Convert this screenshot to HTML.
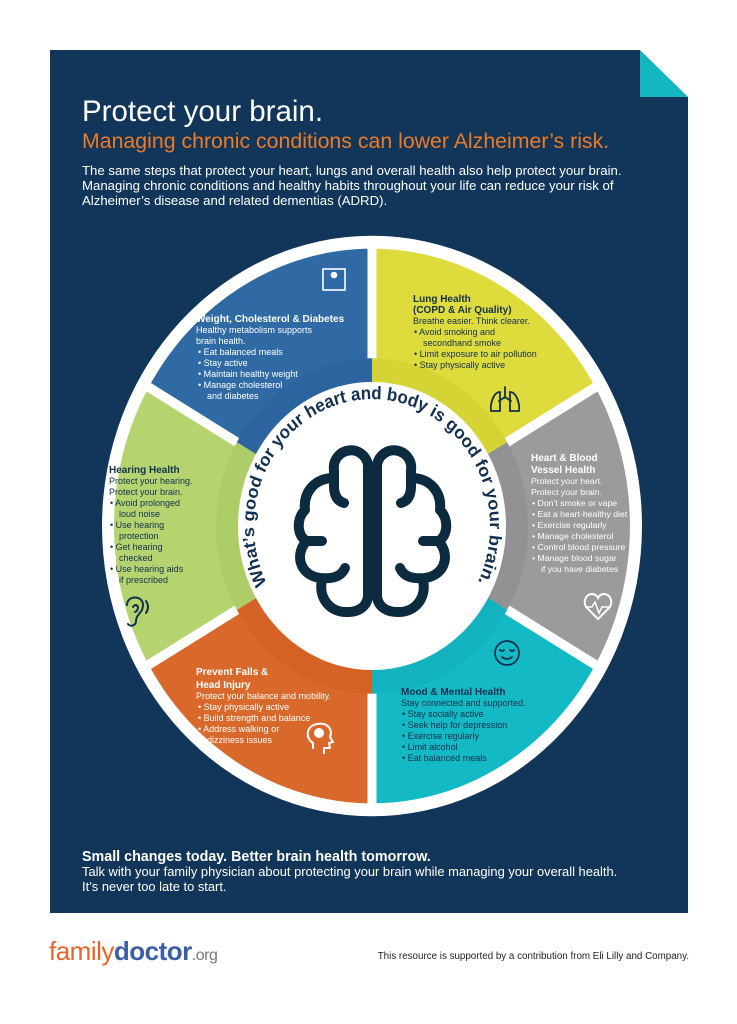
<!DOCTYPE html>
<html><head><meta charset="utf-8"><style>
html,body{margin:0;padding:0;background:#fff;}
svg{display:block;font-family:"Liberation Sans",sans-serif;}
</style></head><body>
<svg width="737" height="1024" viewBox="0 0 737 1024" xmlns="http://www.w3.org/2000/svg">
<rect x="0" y="0" width="737" height="1024" fill="#fff"/>
<rect x="50" y="50" width="638" height="863" fill="#12365a"/>
<polygon points="640,50 688,97 640,97" fill="#13b7c2"/>
<polygon points="640,50 688,50 688,97" fill="#fff"/>

<text x="82" y="121" font-size="29.5" fill="#fff">Protect your brain.</text>
<text x="82" y="148" font-size="21.3" fill="#ec7a26">Managing chronic conditions can lower Alzheimer’s risk.</text>
<g font-size="13.2" fill="#fff">
<text x="82" y="175">The same steps that protect your heart, lungs and overall health also help protect your brain.</text>
<text x="82" y="190">Managing chronic conditions and healthy habits throughout your life can reduce your risk of</text>
<text x="82" y="205">Alzheimer’s disease and related dementias (ADRD).</text>
</g>

<g transform="translate(372,526) scale(1,1.075)">
<circle r="270" fill="#fff"/>
<path d="M0,0 L0,-258 A258,258 0 0 1 223.4,-129 Z" fill="#dedb3d"/>
<path d="M0,0 L223.4,-129 A258,258 0 0 1 223.4,129 Z" fill="#9b9b9e"/>
<path d="M0,0 L223.4,129 A258,258 0 0 1 0,258 Z" fill="#13b9c5"/>
<path d="M0,0 L0,258 A258,258 0 0 1 -223.4,129 Z" fill="#d9692a"/>
<path d="M0,0 L-223.4,129 A258,258 0 0 1 -223.4,-129 Z" fill="#b5d46f"/>
<path d="M0,0 L-223.4,-129 A258,258 0 0 1 0,-258 Z" fill="#2f6aa4"/>
<g stroke="#fff" stroke-width="9">
<line x1="0" y1="-150" x2="0" y2="-265"/>
<line x1="0" y1="150" x2="0" y2="265"/>
<line x1="130" y1="-75" x2="230" y2="-133"/>
<line x1="130" y1="75" x2="230" y2="133"/>
<line x1="-130" y1="-75" x2="-230" y2="-133"/>
<line x1="-130" y1="75" x2="-230" y2="133"/>
</g>
<g fill="none" stroke-width="22">
<path d="M0,-145 A145,145 0 0 1 125.6,-72.5" stroke="#d6d334"/>
<path d="M125.6,-72.5 A145,145 0 0 1 125.6,72.5" stroke="#929295"/>
<path d="M125.6,72.5 A145,145 0 0 1 0,145" stroke="#12b3bf"/>
<path d="M0,145 A145,145 0 0 1 -125.6,72.5" stroke="#d46224"/>
<path d="M-125.6,72.5 A145,145 0 0 1 -125.6,-72.5" stroke="#aecd66"/>
<path d="M-125.6,-72.5 A145,145 0 0 1 0,-145" stroke="#2c64a0"/>
</g>
<circle r="134" fill="#fff"/>
<path id="arc" d="M-105.1,53.6 A118,118 0 1 1 105.1,53.6" fill="none"/>
<text font-size="17" font-weight="bold" fill="#12304f"><textPath href="#arc" textLength="480" lengthAdjust="spacingAndGlyphs">What’s good for your heart and body is good for your brain.</textPath></text>
</g>

<g fill="none" stroke="#0d2b3e" stroke-width="10" stroke-linecap="round" stroke-linejoin="round">
<g id="lb">
<path d="M368,465 A17,17 0 0 0 334,470 L334,486 Q334,500 344,503"/>
<path d="M334,478 C315,478 303,492 305,510 C295,520 298,538 307,541 L322,541"/>
<path d="M307,541 C295,552 298,575 320,578 Q340,580 345,568"/>
<path d="M322,580 C318,598 330,613 348,612 C360,612 368,605 368,595 L368,465"/>
</g>
<use href="#lb" transform="translate(745,0) scale(-1,1)"/>
</g>

<!-- icons -->
<g fill="none" stroke="#fff" stroke-width="1.6">
<rect x="323" y="269" width="22" height="21"/>
<circle cx="334" cy="275" r="2.5" fill="#fff"/>
</g>
<g fill="none" stroke="#12304f" stroke-width="1.8" stroke-linecap="round">
<path d="M505,387 L505,398 M505,397 L499,401 M505,397 L511,401"/>
<path d="M500,392 C493,392 490,405 491,411 L500,411 Z"/>
<path d="M510,392 C517,392 520,405 519,411 L510,411 Z"/>
</g>
<g fill="none" stroke="#fff" stroke-width="2">
<path d="M598,619 L587,608 C582,602 586,594 592,594 C595,594 597,596 598,598 C599,596 601,594 604,594 C610,594 614,602 609,608 Z"/>
<path d="M585,607 L592,607 L595,602 L599,613 L602,607 L611,607" stroke-width="1.5"/>
</g>
<g fill="none" stroke="#12304f" stroke-width="1.8" stroke-linecap="round">
<circle cx="507" cy="653" r="12"/>
<path d="M500,650 q2,2 4,0 M510,650 q2,2 4,0 M502,657 q5,4 10,0"/>
</g>
<g fill="none" stroke="#fff" stroke-width="2" stroke-linejoin="round">
<path d="M313,749 L313,743 C305,738 306,726 317,724 C328,722 333,730 330,737 L333,742 L329,743 L330,748 L324,748 L324,754"/>
<circle cx="319" cy="733" r="4" fill="#fff"/>
</g>
<g fill="none" stroke="#12304f" stroke-width="2" stroke-linecap="round">
<path d="M127,605 C127,595 143,595 143,605 C143,613 136,614 136,621 C136,626 130,627 128,624"/>
<path d="M133,607 q3,-4 5,0 q0,4 -3,5"/>
<path d="M146,601 q4,6 0,12"/>
</g>

<!-- segment texts -->
<g font-size="9">
<g fill="#fff">
<text x="196" y="322" font-weight="bold" font-size="10">Weight, Cholesterol &amp; Diabetes</text>
<text x="196" y="333">Healthy metabolism supports</text>
<text x="196" y="344">brain health.</text>
<text x="198" y="355">•  Eat balanced meals</text>
<text x="198" y="366">•  Stay active</text>
<text x="198" y="377">•  Maintain healthy weight</text>
<text x="198" y="388">•  Manage cholesterol</text>
<text x="207" y="399">and diabetes</text>
</g>
<g fill="#12304f">
<text x="413" y="302" font-weight="bold" font-size="10">Lung Health</text>
<text x="413" y="313" font-weight="bold" font-size="10">(COPD &amp; Air Quality)</text>
<text x="413" y="324">Breathe easier. Think clearer.</text>
<text x="414" y="335">•  Avoid smoking and</text>
<text x="423" y="346">secondhand smoke</text>
<text x="414" y="357">•  Limit exposure to air pollution</text>
<text x="414" y="368">•  Stay physically active</text>
</g>
<g fill="#fff" font-size="8.7">
<text x="531" y="461" font-weight="bold" font-size="10">Heart &amp; Blood</text>
<text x="531" y="473" font-weight="bold" font-size="10">Vessel Health</text>
<text x="531" y="484">Protect your heart.</text>
<text x="531" y="495">Protect your brain.</text>
<text x="532" y="506">•  Don’t smoke or vape</text>
<text x="532" y="517">•  Eat a heart-healthy diet</text>
<text x="532" y="528">•  Exercise regularly</text>
<text x="532" y="539">•  Manage cholesterol</text>
<text x="532" y="550">•  Control blood pressure</text>
<text x="532" y="561">•  Manage blood sugar</text>
<text x="541" y="572">if you have diabetes</text>
</g>
<g fill="#12304f">
<text x="109" y="473" font-weight="bold" font-size="10">Hearing Health</text>
<text x="109" y="484">Protect your hearing.</text>
<text x="109" y="495">Protect your brain.</text>
<text x="110" y="506">•  Avoid prolonged</text>
<text x="119" y="517">loud noise</text>
<text x="110" y="528">•  Use hearing</text>
<text x="119" y="539">protection</text>
<text x="110" y="550">•  Get hearing</text>
<text x="119" y="561">checked</text>
<text x="110" y="572">•  Use hearing aids</text>
<text x="119" y="583">if prescribed</text>
</g>
<g fill="#fff">
<text x="196" y="675" font-weight="bold" font-size="10">Prevent Falls &amp;</text>
<text x="196" y="688" font-weight="bold" font-size="10">Head Injury</text>
<text x="196" y="699">Protect your balance and mobility.</text>
<text x="198" y="710">•  Stay physically active</text>
<text x="198" y="721">•  Build strength and balance</text>
<text x="198" y="732">•  Address walking or</text>
<text x="207" y="743">dizziness issues</text>
</g>
<g fill="#12304f">
<text x="401" y="695" font-weight="bold" font-size="10">Mood &amp; Mental Health</text>
<text x="401" y="706">Stay connected and supported.</text>
<text x="402" y="717">•  Stay socially active</text>
<text x="402" y="728">•  Seek help for depression</text>
<text x="402" y="739">•  Exercise regularly</text>
<text x="402" y="750">•  Limit alcohol</text>
<text x="402" y="761">•  Eat balanced meals</text>
</g>
</g>

<text x="82" y="861" font-size="14.3" font-weight="bold" fill="#fff">Small changes today. Better brain health tomorrow.</text>
<text x="82" y="876" font-size="12.9" fill="#fff">Talk with your family physician about protecting your brain while managing your overall health.</text>
<text x="82" y="891" font-size="12.9" fill="#fff">It’s never too late to start.</text>

<text x="49" y="960" font-size="26" fill="#e8642a" letter-spacing="-0.5">family<tspan fill="#3a5fa8" font-weight="bold">doctor</tspan><tspan fill="#777" font-size="16">.org</tspan></text>
<text x="689" y="959" font-size="9.8" fill="#222" text-anchor="end">This resource is supported by a contribution from Eli Lilly and Company.</text>
</svg>
</body></html>
